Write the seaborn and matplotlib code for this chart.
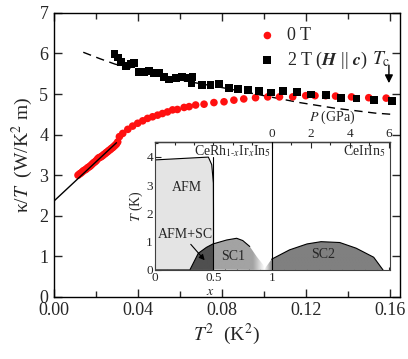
import matplotlib

matplotlib.use("Agg")

import matplotlib.pyplot as plt
import numpy as np
import pandas as pd
import seaborn as sns
from matplotlib.patches import Polygon
from matplotlib.ticker import MultipleLocator, FormatStrFormatter

# ---- main panel data: kappa/T vs T^2 ----
red_t2 = [0.0115, 0.0122, 0.0128, 0.0135, 0.0141, 0.0148, 0.0154, 0.0160, 0.0166, 0.0172,
          0.0178, 0.0184, 0.0190, 0.0196, 0.0202, 0.0208, 0.0214, 0.0220, 0.0226, 0.0232,
          0.0238, 0.0244, 0.0250, 0.0256, 0.0262, 0.0268, 0.0274, 0.0280, 0.0286, 0.0292,
          0.0298, 0.0304, 0.0312, 0.0328, 0.0352, 0.0375, 0.0399, 0.0423, 0.0446, 0.0470,
          0.0494, 0.0517, 0.0541, 0.0565, 0.0588, 0.0620, 0.0644, 0.0675, 0.0715, 0.0762,
          0.0810, 0.0857, 0.0904, 0.0960, 0.1018, 0.1074, 0.1137, 0.1199, 0.1243, 0.1294,
          0.1341, 0.1417, 0.1499, 0.1582]
red_kt = [3.00, 3.03, 3.05, 3.08, 3.11, 3.13, 3.15, 3.18, 3.20, 3.22,
          3.25, 3.28, 3.31, 3.33, 3.36, 3.40, 3.43, 3.44, 3.46, 3.48,
          3.51, 3.53, 3.56, 3.58, 3.61, 3.63, 3.66, 3.68, 3.71, 3.74,
          3.77, 3.82, 3.95, 4.03, 4.13, 4.21, 4.28, 4.34, 4.40, 4.44,
          4.48, 4.52, 4.56, 4.61, 4.62, 4.67, 4.69, 4.73, 4.75, 4.79,
          4.81, 4.85, 4.88, 4.91, 4.93, 4.93, 4.93, 4.96, 4.96, 4.96,
          4.95, 4.93, 4.91, 4.90]

blk_t2 = [0.0289, 0.0305, 0.0320, 0.0344, 0.0368, 0.0383, 0.0407, 0.0431, 0.0454, 0.0478,
          0.0502, 0.0525, 0.0549, 0.0580, 0.0612, 0.0636, 0.0660, 0.0655, 0.0707, 0.0746,
          0.0786, 0.0833, 0.0877, 0.0924, 0.0978, 0.1033, 0.1089, 0.1157, 0.1225, 0.1296,
          0.1367, 0.1441, 0.1525, 0.1610]
blk_kt = [5.99, 5.90, 5.80, 5.69, 5.74, 5.76, 5.55, 5.55, 5.57, 5.51,
          5.52, 5.43, 5.36, 5.39, 5.43, 5.39, 5.43, 5.28, 5.22, 5.22,
          5.25, 5.14, 5.12, 5.11, 5.07, 5.04, 5.08, 5.05, 4.99, 4.97,
          4.91, 4.89, 4.86, 4.83]

# linear fit to the low-T 0 T data
fit_t2 = [0.0, 0.0298]
fit_kt = [2.36, 3.80]

# dashed guide through the 2 T data
dash_t2 = [0.014, 0.022, 0.029, 0.040, 0.050, 0.065, 0.080, 0.100, 0.117, 0.134, 0.153, 0.161]
dash_kt = [6.03, 5.87, 5.74, 5.59, 5.46, 5.30, 5.16, 4.96, 4.79, 4.65, 4.53, 4.50]

tc_t2 = 0.1595
tc_arrow_kt = [5.78, 5.20]

# ---- inset phase diagram ----
afm_x = [0.0, 0.0, 0.456, 0.485, 0.499, 0.50, 0.50]
afm_t = [0.0, 3.89, 3.99, 3.72, 3.07, 2.0, 0.0]

sc1_x = [0.30, 0.37, 0.44, 0.50, 0.513, 0.613, 0.698, 0.75, 0.81, 0.87, 0.926, 0.945]
sc1_t = [0.02, 0.59, 0.80, 0.93, 0.94, 1.06, 1.12, 1.04, 0.83, 0.47, 0.18, 0.0]

sc2_x = [0.93, 0.997, 1.15, 1.30, 1.42, 1.58, 1.72, 1.87, 1.95]
sc2_t = [0.0, 0.38, 0.71, 0.92, 1.00, 0.97, 0.77, 0.45, 0.0]

p_ticks = [0, 2, 4, 6]
x_ticks = [0, 0.5, 1]

sns.set_theme(style="ticks")
plt.rcParams["font.family"] = ["Liberation Serif", "DejaVu Serif"]
plt.rcParams["mathtext.fontset"] = "stix"
plt.rcParams["xtick.direction"] = "in"
plt.rcParams["ytick.direction"] = "in"
plt.rcParams["axes.linewidth"] = 1.0

fig = plt.figure(figsize=(4.08, 3.59), dpi=100)
ax = fig.add_axes([0.132, 0.173, 0.848, 0.791])

red_df = pd.DataFrame({"t2": red_t2, "kt": red_kt})
blk_df = pd.DataFrame({"t2": blk_t2, "kt": blk_kt})

sns.lineplot(x=dash_t2, y=dash_kt, ax=ax, color="black", lw=1.0, legend=False, zorder=1)
ax.lines[-1].set_dashes([6, 4])
sns.scatterplot(data=red_df, x="t2", y="kt", ax=ax, color="#ff1010", marker="o", s=30,
                edgecolor="none", label="0 T", zorder=3)
sns.scatterplot(data=blk_df, x="t2", y="kt", ax=ax, color="black", marker="s", s=32,
                edgecolor="none", label=r"2 T ($\mathbfit{H}$ || $\mathbfit{c}$)", zorder=3)
ax.plot(fit_t2, fit_kt, color="black", lw=1.0, zorder=4)

ax.annotate("", xy=(tc_t2, tc_arrow_kt[1]), xytext=(tc_t2, tc_arrow_kt[0]),
            arrowprops=dict(arrowstyle="-|>", color="black", lw=1.0, mutation_scale=12))
ax.text(0.1560, 5.85, r"$T_{\mathrm{c}}$", fontsize=14, ha="center", va="center")

ax.set_xlim(0, 0.1647)
ax.set_ylim(0, 7)
ax.xaxis.set_major_locator(MultipleLocator(0.04))
ax.xaxis.set_minor_locator(MultipleLocator(0.02))
ax.xaxis.set_major_formatter(FormatStrFormatter("%.2f"))
ax.yaxis.set_major_locator(MultipleLocator(1))
ax.tick_params(which="both", top=True, right=True, labelsize=13)
ax.tick_params(axis="x", which="both", pad=3.5)
ax.tick_params(axis="y", which="both", pad=4)
ax.tick_params(which="major", length=6, width=1)
ax.tick_params(which="minor", length=4, width=1)
ax.set_xlabel(r"$T^2$  (K$^2$)", fontsize=14, labelpad=2)
ax.set_ylabel(r"κ/$T$  (W/K$^2$ m)", fontsize=14, labelpad=3)
for s in ax.spines.values():
    s.set_color("black")

leg = ax.legend(loc="upper left", bbox_to_anchor=(0.565, 0.975), frameon=False, fontsize=13,
                handletextpad=0.5, labelspacing=0.3, borderaxespad=0, handlelength=1.2)

# ---- inset ----
ins = fig.add_axes([0.380, 0.248, 0.576, 0.357])
ins.set_xlim(0, 2.01)
ins.set_ylim(0, 4.53)

ins.add_patch(Polygon(np.column_stack([afm_x, afm_t]), closed=True, facecolor="#e4e4e4",
                      edgecolor="black", lw=0.8, zorder=1))

sc1_poly = Polygon(np.column_stack([sc1_x, sc1_t]), closed=True, facecolor="none",
                   edgecolor="none", zorder=2)
ins.add_patch(sc1_poly)
grad_x = np.linspace(0.3, 0.95, 200)
grey1 = np.where(grad_x < 0.5, 0.31, np.clip(0.64 + (grad_x - 0.84) / 0.1 * 0.36, 0.64, 1.0))
img1 = ins.imshow(np.tile(grey1, (2, 1)), cmap="gray", vmin=0, vmax=1, aspect="auto",
                  extent=[0.3, 0.95, 0, 1.2], origin="lower", zorder=2, interpolation="bilinear")
img1.set_clip_path(sc1_poly)
ins.plot(sc1_x[:9], sc1_t[:9], color="black", lw=0.8, zorder=3)
ins.plot([0.5, 0.5], [0, 4.0], color="black", lw=0.8, zorder=3)

sc2_poly = Polygon(np.column_stack([sc2_x, sc2_t]), closed=True, facecolor="none",
                   edgecolor="none", zorder=2)
ins.add_patch(sc2_poly)
grad_x2 = np.linspace(0.93, 1.95, 200)
grey2 = np.clip(1.0 - (grad_x2 - 0.93) / 0.07 * 0.5, 0.5, 1.0)
img2 = ins.imshow(np.tile(grey2, (2, 1)), cmap="gray", vmin=0, vmax=1, aspect="auto",
                  extent=[0.93, 1.95, 0, 1.1], origin="lower", zorder=2, interpolation="bilinear")
img2.set_clip_path(sc2_poly)
ins.plot(sc2_x[1:], sc2_t[1:], color="black", lw=0.8, zorder=3)

ins.axvline(1.0, color="black", lw=0.8, zorder=3)

ins.text(0.27, 2.9, "AFM", fontsize=10, ha="center", va="center")
ins.text(0.256, 1.24, "AFM+SC", fontsize=10, ha="center", va="center")
ins.annotate("", xy=(0.44, 0.27), xytext=(0.29, 0.98),
             arrowprops=dict(arrowstyle="-|>", color="black", lw=0.8, mutation_scale=8))
ins.text(0.67, 0.47, "SC1", fontsize=10, ha="center", va="center")
ins.text(1.44, 0.55, "SC2", fontsize=10, ha="center", va="center")
ins.text(0.99, 4.2, r"CeRh$_{1\text{-}x}$Ir$_x$In$_5$", fontsize=10, ha="right", va="center")
ins.text(1.97, 4.2, r"CeIrIn$_5$", fontsize=10, ha="right", va="center")

ins.set_xticks(x_ticks)
ins.set_xticklabels(["0", "0.5", "1"])
ins.xaxis.set_minor_locator(MultipleLocator(0.1))
ins.set_yticks([0, 1, 2, 3, 4])
ins.yaxis.set_minor_locator(MultipleLocator(0.5))
ins.tick_params(which="both", labelsize=9.5, pad=1.5, top=False, right=False)
ins.tick_params(which="major", length=4, width=0.8)
ins.tick_params(which="minor", length=2, width=0.8)
ins.set_xlabel(r"$x$", fontsize=10)
ins.xaxis.set_label_coords(0.236, -0.12)
ins.set_ylabel(r"$T$ (K)", fontsize=10, labelpad=1)
for s in ins.spines.values():
    s.set_linewidth(0.8)
    s.set_color("#404040")

top = ins.secondary_xaxis("top", functions=(lambda x: (x - 1) * 6, lambda p: p / 6 + 1))
top.set_xticks(p_ticks)
top.xaxis.set_minor_locator(MultipleLocator(1))
top.tick_params(which="both", labelsize=9.5, pad=1.5, direction="in")
top.tick_params(which="major", length=4, width=0.8)
top.tick_params(which="minor", length=2, width=0.8)
ins.text(0.753, 1.19, r"$P$ (GPa)", fontsize=10, ha="center", va="center",
         transform=ins.transAxes)

fig.savefig("out.png", dpi=100)
